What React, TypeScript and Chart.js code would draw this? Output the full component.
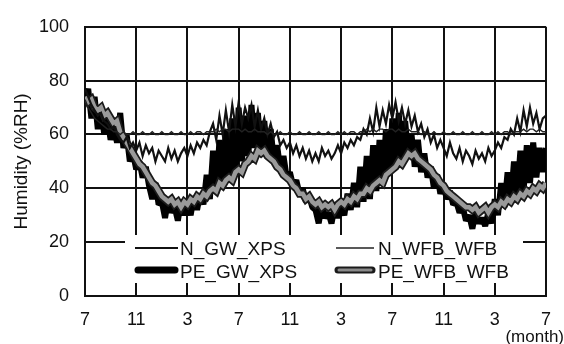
import React, { useEffect, useRef } from "react";
import { Chart, registerables } from "chart.js";

Chart.register(...registerables);

// Month tick labels (every 4 months, Jul -> Jul, 3 years)
const TICK_LABELS = ["7", "11", "3", "7", "11", "3", "7", "11", "3", "7"];
const Y_TICKS = [0, 20, 40, 60, 80, 100];
// weekly samples: 4 per month, 36 months
const STEPS_PER_MONTH = 4;

const N_GW_XPS = [
  77, 74, 71, 69, 67, 68, 65, 64, 62, 63, 60, 58, 57, 59, 55, 57,
  54, 57, 52, 56, 53, 55, 50, 54, 52, 50, 55, 51, 54, 50, 53, 55,
  52, 56, 53, 57, 55, 58, 56, 61, 64, 58, 67, 60, 69, 61, 71, 63,
  72, 64, 70, 66, 71, 63, 69, 62, 66, 60, 64, 59, 61, 56, 58, 55,
  57, 53, 56, 52, 55, 51, 54, 50, 53, 50, 55, 52, 54, 51, 53, 56,
  53, 57, 55, 58, 56, 59, 58, 62, 60, 66, 61, 70, 63, 69, 64, 71,
  66, 72, 65, 70, 64, 69, 63, 67, 61, 64, 59, 62, 57, 60, 55, 58,
  55, 52, 57, 53, 51, 55, 50, 54, 52, 49, 54, 51, 53, 50, 55, 52,
  54, 57, 55, 59, 58, 62, 60, 66, 61, 69, 63, 70, 64, 68, 62, 66,
  67,
];

const N_WFB_WFB = [
  73, 70, 68, 66, 65, 64, 63, 62, 62, 61, 61, 60, 61, 60, 60, 61,
  60, 60, 61, 60, 60, 61, 60, 60, 61, 60, 60, 61, 60, 60, 61, 60,
  60, 61, 60, 61, 61, 60, 61, 61, 61, 62, 61, 62, 62, 61, 62, 62,
  62, 61, 62, 61, 61, 62, 61, 61, 61, 60, 61, 60, 60, 61, 60, 60,
  61, 60, 60, 61, 60, 60, 61, 60, 60, 61, 60, 60, 61, 60, 60, 61,
  60, 61, 60, 61, 61, 60, 61, 61, 62, 61, 62, 61, 62, 62, 61, 62,
  62, 61, 62, 61, 61, 62, 61, 61, 61, 60, 61, 60, 60, 61, 60, 60,
  61, 60, 60, 61, 60, 60, 61, 60, 60, 61, 60, 60, 61, 60, 60, 61,
  60, 61, 60, 61, 61, 60, 61, 61, 61, 62, 61, 62, 62, 61, 62, 61,
  61,
];

const PE_GW_XPS = [
  72, 77, 66, 74, 62, 70, 60, 66, 58, 63, 57, 68, 55, 60, 50, 53,
  47, 50, 44, 48, 41, 36, 42, 34, 35, 29, 36, 31, 33, 28, 35, 30,
  35, 30, 37, 32, 38, 34, 45, 36, 54, 38, 58, 40, 62, 42, 66, 45,
  70, 50, 67, 52, 71, 55, 68, 53, 65, 52, 62, 50, 56, 47, 52, 44,
  46, 41, 43, 38, 40, 35, 37, 33, 32, 27, 34, 29, 31, 27, 33, 29,
  33, 30, 38, 32, 42, 33, 48, 35, 52, 36, 56, 39, 58, 41, 62, 45,
  66, 48, 68, 50, 65, 52, 60, 48, 58, 46, 53, 44, 48, 40, 45, 38,
  41, 36, 39, 34, 35, 31, 33, 28, 30, 25, 31, 27, 29, 26, 31, 27,
  36, 30, 42, 33, 46, 35, 50, 38, 54, 39, 56, 42, 57, 44, 55, 46,
  55,
];

const PE_WFB_WFB = [
  74, 72, 73, 70, 69, 70, 67, 68, 66, 64, 65, 61, 59, 57, 55, 53,
  51, 49, 48, 46, 44, 42, 41, 39, 37, 36, 35, 36, 34, 35, 33, 35,
  34, 36, 35, 37, 36, 38, 37, 39, 40, 39, 42, 41, 43, 44, 43, 46,
  47, 46, 49, 50, 52, 51, 54, 53, 54, 52, 51, 50, 48, 47, 45, 44,
  43, 41, 40, 38, 38, 36, 37, 35, 34, 35, 33, 34, 33, 34, 32, 34,
  35, 34, 36, 35, 37, 36, 38, 38, 40, 39, 41, 42, 43, 42, 45, 46,
  47, 48, 50, 49, 51, 53, 52, 53, 51, 50, 49, 48, 47, 45, 44, 42,
  41, 39, 38, 37, 36, 35, 34, 33, 33, 32, 33, 31, 32, 33, 31, 33,
  34, 33, 35, 34, 36, 35, 37, 36, 38, 37, 39, 38, 40, 39, 41, 40,
  42,
];

const FONT = 'Arial, "Liberation Sans", sans-serif';

const toPoints = (arr: number[]) =>
  arr.map((v, i) => ({ x: i / STEPS_PER_MONTH, y: v }));

const overlayPlugin = {
  id: "overlay",
  afterDatasetsDraw(chart: any) {
    const ctx = chart.ctx;
    ctx.save();
    // legend box
    ctx.fillStyle = "#ffffff";
    ctx.fillRect(125, 235, 398, 48);
    const row1 = 249;
    const row2 = 272;
    ctx.lineCap = "butt";
    // N_GW_XPS
    ctx.strokeStyle = "#111";
    ctx.lineWidth = 1.8;
    ctx.beginPath();
    ctx.moveTo(135, row1 - 1);
    ctx.lineTo(178, row1 - 1);
    ctx.stroke();
    // N_WFB_WFB
    ctx.strokeStyle = "#222";
    ctx.lineWidth = 1.3;
    ctx.beginPath();
    ctx.moveTo(336, row1 - 1);
    ctx.lineTo(374, row1 - 1);
    ctx.stroke();
    // PE_GW_XPS
    ctx.lineCap = "round";
    ctx.strokeStyle = "#000";
    ctx.lineWidth = 7;
    ctx.beginPath();
    ctx.moveTo(138, row2 - 2);
    ctx.lineTo(175, row2 - 2);
    ctx.stroke();
    // PE_WFB_WFB
    ctx.strokeStyle = "#1a1a1a";
    ctx.lineWidth = 7;
    ctx.beginPath();
    ctx.moveTo(338, row2 - 2);
    ctx.lineTo(372, row2 - 2);
    ctx.stroke();
    ctx.strokeStyle = "#8a8a8a";
    ctx.lineWidth = 3;
    ctx.beginPath();
    ctx.moveTo(339, row2 - 2);
    ctx.lineTo(371, row2 - 2);
    ctx.stroke();
    // texts
    ctx.fillStyle = "#111";
    ctx.font = `19px ${FONT}`;
    ctx.textBaseline = "middle";
    ctx.textAlign = "left";
    ctx.fillText("N_GW_XPS", 180, row1 + 1);
    ctx.fillText("PE_GW_XPS", 180, row2 + 1);
    ctx.fillText("N_WFB_WFB", 378, row1 + 1);
    ctx.fillText("PE_WFB_WFB", 378, row2 + 1);
    // (month)
    ctx.font = `17px ${FONT}`;
    ctx.textAlign = "right";
    ctx.fillText("(month)", 564, 337);
    ctx.restore();
  },
};

export default function App() {
  const ref = useRef<HTMLCanvasElement | null>(null);

  useEffect(() => {
    document.body.style.margin = "0";
    const canvas = ref.current;
    if (!canvas) return;
    const chart = new Chart(canvas, {
      type: "line",
      data: {
        datasets: [
          {
            label: "N_WFB_WFB",
            data: toPoints(N_WFB_WFB),
            borderColor: "#222222",
            borderWidth: 1.4,
            pointRadius: 0,
            order: 0,
          },
          {
            label: "N_GW_XPS",
            data: toPoints(N_GW_XPS),
            borderColor: "#111111",
            borderWidth: 2.2,
            pointRadius: 0,
            order: 1,
          },
          {
            label: "PE_WFB_WFB",
            data: toPoints(PE_WFB_WFB),
            borderColor: "#9a9a9a",
            borderWidth: 4.5,
            pointRadius: 0,
            order: 2,
          },
          {
            label: "PE_WFB_WFB outline",
            data: toPoints(PE_WFB_WFB),
            borderColor: "#1a1a1a",
            borderWidth: 8,
            pointRadius: 0,
            order: 3,
          },
          {
            label: "PE_GW_XPS",
            data: toPoints(PE_GW_XPS),
            borderColor: "#000000",
            borderWidth: 6,
            pointRadius: 0,
            borderJoinStyle: "bevel",
            order: 4,
          },
        ],
      },
      options: {
        responsive: false,
        animation: false,
        devicePixelRatio: 1,
        layout: { padding: { left: 0, top: 21, right: 11, bottom: 0 } },
        plugins: {
          legend: { display: false },
          tooltip: { enabled: false },
        },
        elements: { line: { tension: 0 } },
        scales: {
          x: {
            type: "linear",
            min: 0,
            max: 36,
            afterFit: (s: any) => {
              s.height = 48;
            },
            ticks: {
              stepSize: 4,
              autoSkip: false,
              maxRotation: 0,
              padding: 13,
              color: "#111",
              font: { family: FONT, size: 18 },
              callback: (v: any) => TICK_LABELS[Math.round(Number(v) / 4)] ?? "",
            },
            grid: {
              color: "#111",
              lineWidth: 2,
              drawTicks: false,
            },
            border: { color: "#111", width: 2 },
          },
          y: {
            min: 0,
            max: 100,
            afterFit: (s: any) => {
              s.width = 85;
            },
            afterBuildTicks: (s: any) => {
              s.ticks = Y_TICKS.map((v) => ({ value: v }));
            },
            ticks: {
              padding: 16,
              color: "#111",
              font: { family: FONT, size: 18 },
            },
            grid: {
              color: "#111",
              lineWidth: 2,
              drawTicks: false,
            },
            border: { color: "#111", width: 2 },
            title: {
              display: true,
              text: "Humidity (%RH)",
              color: "#111",
              font: { family: FONT, size: 19 },
              padding: { top: 10, bottom: 0 },
            },
          },
        },
      },
      plugins: [overlayPlugin],
    });
    return () => chart.destroy();
  }, []);

  return (
    <canvas
      ref={ref}
      width={564}
      height={344}
      style={{ display: "block", width: 564, height: 344 }}
    />
  );
}
